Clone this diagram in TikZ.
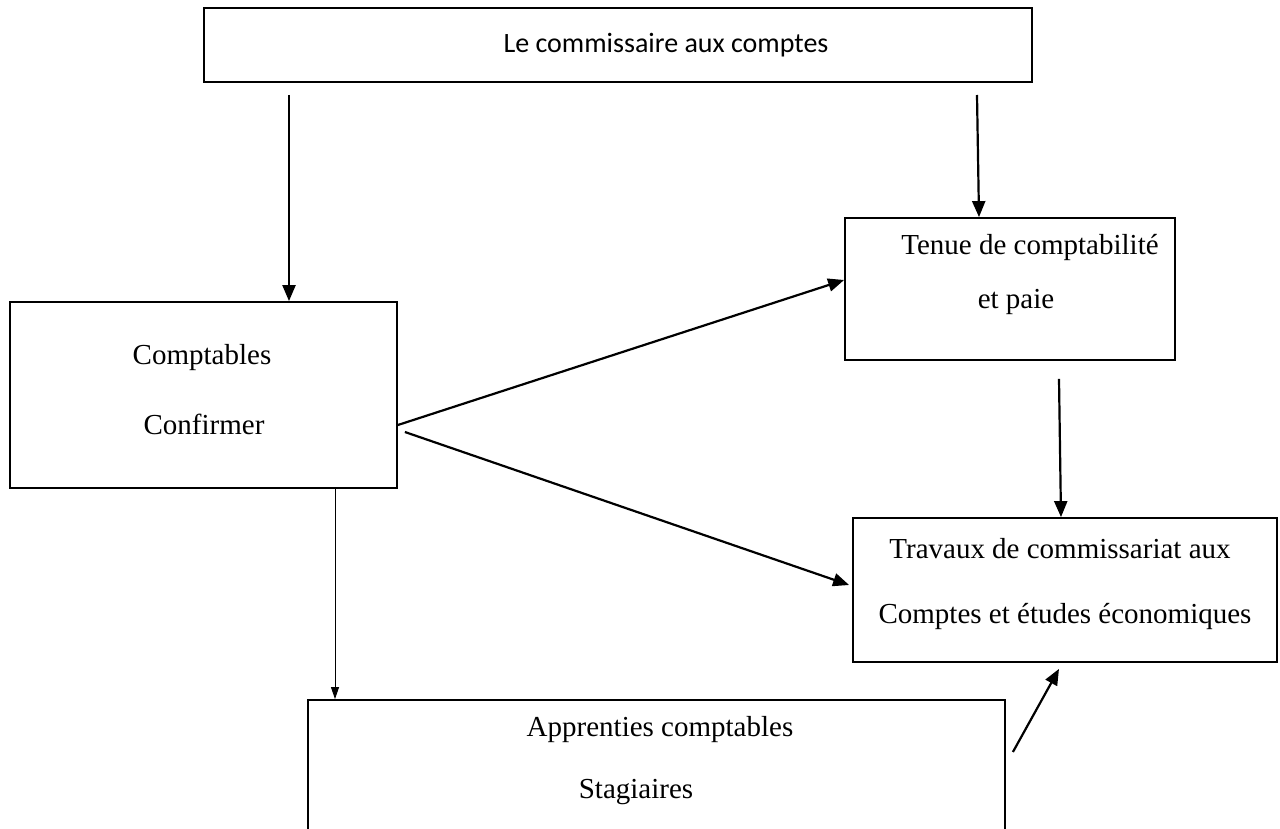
\documentclass[tikz,border=0pt]{standalone}
\usepackage{fontspec}
\setmainfont{Liberation Serif}
\newfontfamily\calib{Carlito}
\usetikzlibrary{arrows.meta}
\begin{document}
\begin{tikzpicture}[x=0.5pt,y=-0.5pt,
  box/.style={draw,line width=0.9pt,inner sep=0pt},
  txt/.style={inner sep=0pt,font=\fontsize{14.5}{17}\selectfont},
  arr/.style={line width=1.1pt,-{Triangle[length=8pt,width=6.5pt]}},
  thinarr/.style={line width=0.5pt,-{Triangle[length=6pt,width=4pt]}}]
\clip (0,0) rectangle (1280,829);
\useasboundingbox (0,0) rectangle (1280,829);
\fill[white] (0,0) rectangle (1280,829);
% boxes
\node[box,minimum width=414pt,minimum height=37pt] (top) at (618,45) {};
\node[box,minimum width=193.5pt,minimum height=93pt] (comp) at (203.5,395) {};
\node[box,minimum width=165pt,minimum height=71pt] (tenue) at (1010,289) {};
\node[box,minimum width=212pt,minimum height=72pt] (trav) at (1065,590) {};
\node[box,minimum width=348.5pt,minimum height=90pt] (appr) at (656.5,790) {};
% texts
\node[inner sep=0pt,font=\calib\fontsize{14}{16}\selectfont] (ttop) at (666,45) {Le commissaire aux comptes};
\node[txt] (tc1) at (202,358) {Comptables};
\node[txt] (tc2) at (204,424) {Confirmer};
\node[txt] (tt1) at (1030,248) {Tenue de comptabilité};
\node[txt] (tt2) at (1016,302) {et paie};
\node[txt] (tv1) at (1060,549) {Travaux de commissariat aux};
\node[txt] (tv2) at (1065,616) {Comptes et études économiques};
\node[txt] (ta1) at (660,730) {Apprenties comptables};
\node[txt] (ta2) at (636,792) {Stagiaires};
% connectors
\coordinate (s1) at (289,95);
\coordinate (s2) at (977,95);
\coordinate (thin) at (335,0);
\draw[arr] (s1) -- (s1 |- comp.north);
\draw[arr] (s2) -- ([xshift=-15.5pt]tenue.north);
\draw[arr] ([yshift=-15pt]comp.east) -- ([yshift=4.5pt]tenue.west);
\draw[arr] ([xshift=3.5pt,yshift=-18.5pt]comp.east) -- ([xshift=-1.5pt,yshift=2.5pt]trav.west);
\draw[arr] ([xshift=24.5pt,yshift=-9pt]tenue.south) -- ([xshift=-2pt]trav.north);
\draw[thinarr] (comp.south -| thin) -- (appr.north -| thin);
\draw[arr] ([xshift=3.5pt,yshift=19pt]appr.east) -- ([xshift=-3pt,yshift=-3pt]trav.south);
\end{tikzpicture}
\end{document}
